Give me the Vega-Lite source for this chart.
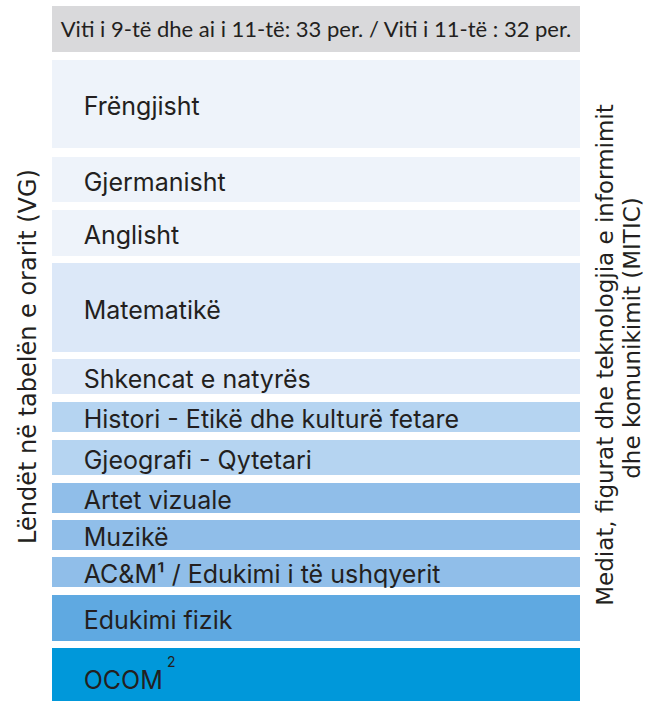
{
  "$schema": "https://vega.github.io/schema/vega-lite/v6.json",
  "width": 528,
  "height": 701,
  "padding": {"left": 52, "right": 86, "top": 0, "bottom": 0},
  "autosize": {"type": "none"},
  "background": "white",
  "config": {"view": {"stroke": null}},
  "data": {
    "values": [
      {"label": "Viti i 9-të dhe ai i 11-të: 33 per. / Viti i 11-të : 32 per.", "start": 6, "end": 52, "group": "header"},
      {"label": "Frëngjisht", "start": 60, "end": 148, "group": "gjuhe"},
      {"label": "Gjermanisht", "start": 157, "end": 202, "group": "gjuhe"},
      {"label": "Anglisht", "start": 210, "end": 256, "group": "gjuhe"},
      {"label": "Matematikë", "start": 263, "end": 352, "group": "shkence"},
      {"label": "Shkencat e natyrës", "start": 359, "end": 394, "group": "shkence"},
      {"label": "Histori - Etikë dhe kulturë fetare", "start": 402, "end": 432, "group": "shoqeri"},
      {"label": "Gjeografi - Qytetari", "start": 440, "end": 475, "group": "shoqeri"},
      {"label": "Artet vizuale", "start": 483, "end": 513, "group": "arte"},
      {"label": "Muzikë", "start": 520, "end": 550, "group": "arte"},
      {"label": "AC&M¹ / Edukimi i të ushqyerit", "start": 557, "end": 587, "group": "arte"},
      {"label": "Edukimi fizik", "start": 595, "end": 641, "group": "sport"},
      {"label": "OCOM", "start": 648, "end": 708, "group": "ocom"}
    ]
  },
  "transform": [{"calculate": "(datum.start + datum.end) / 2", "as": "mid"}],
  "layer": [
    {
      "mark": {"type": "rect"},
      "encoding": {
        "y": {
          "field": "start", "type": "quantitative",
          "scale": {"domain": [0, 701], "reverse": true, "nice": false, "zero": false},
          "axis": {
            "orient": "left", "title": "Lëndët në tabelën e orarit (VG)",
            "labels": false, "ticks": false, "domain": false, "grid": false,
            "titleFont": "DejaVu Sans", "titleFontSize": 24, "titleFontWeight": "normal",
            "titleColor": "#231f20", "titleAngle": 270, "titleAlign": "center",
            "titleBaseline": "alphabetic", "titleX": -17, "titleY": 356
          }
        },
        "y2": {"field": "end"},
        "color": {
          "field": "group", "type": "nominal", "legend": null,
          "scale": {
            "domain": ["header", "gjuhe", "shkence", "shoqeri", "arte", "sport", "ocom"],
            "range": ["#d9d9db", "#eef3fa", "#dce8f8", "#b5d4f1", "#90bee9", "#5fa9e1", "#0098da"]
          }
        }
      }
    },
    {
      "transform": [{"filter": "datum.group != 'header'"}],
      "mark": {"type": "text", "align": "left", "baseline": "middle", "dy": 3, "font": "Inter", "fontSize": 25, "color": "#231f20"},
      "encoding": {
        "x": {"datum": 0.06, "type": "quantitative", "scale": {"domain": [0, 1], "nice": false, "zero": false}, "axis": null},
        "y": {"field": "mid", "type": "quantitative", "axis": null},
        "text": {"field": "label"}
      }
    },
    {
      "transform": [{"filter": "datum.group == 'header'"}],
      "mark": {"type": "text", "align": "center", "baseline": "middle", "dy": 1, "font": "Lato", "fontSize": 22, "color": "#231f20"},
      "encoding": {
        "x": {"datum": 0.5, "type": "quantitative"},
        "y": {"field": "mid", "type": "quantitative", "axis": null},
        "text": {"field": "label"}
      }
    },
    {
      "data": {"values": [{"line": "Mediat, figurat dhe teknologjia e informimit", "h": 1.0625, "pos": 355}]},
      "mark": {"type": "text", "align": "center", "baseline": "alphabetic", "angle": 270, "font": "DejaVu Sans", "fontSize": 23, "color": "#231f20"},
      "encoding": {
        "x": {"field": "h", "type": "quantitative"},
        "y": {"field": "pos", "type": "quantitative", "axis": null},
        "text": {"field": "line"}
      }
    },
    {
      "data": {"values": [{"line": "dhe komunikimit (MITIC)", "h": 1.1136, "pos": 338}]},
      "mark": {"type": "text", "align": "center", "baseline": "alphabetic", "angle": 270, "font": "DejaVu Sans", "fontSize": 23, "color": "#231f20"},
      "encoding": {
        "x": {"field": "h", "type": "quantitative"},
        "y": {"field": "pos", "type": "quantitative", "axis": null},
        "text": {"field": "line"}
      }
    },
    {
      "data": {"values": [{"sup": "2", "pos": 663, "h": 0.226}]},
      "mark": {"type": "text", "align": "center", "baseline": "middle", "font": "Inter", "fontSize": 14, "color": "#231f20"},
      "encoding": {
        "x": {"field": "h", "type": "quantitative"},
        "y": {"field": "pos", "type": "quantitative", "axis": null},
        "text": {"field": "sup"}
      }
    }
  ],
  "resolve": {"axis": {"y": "independent"}}
}
